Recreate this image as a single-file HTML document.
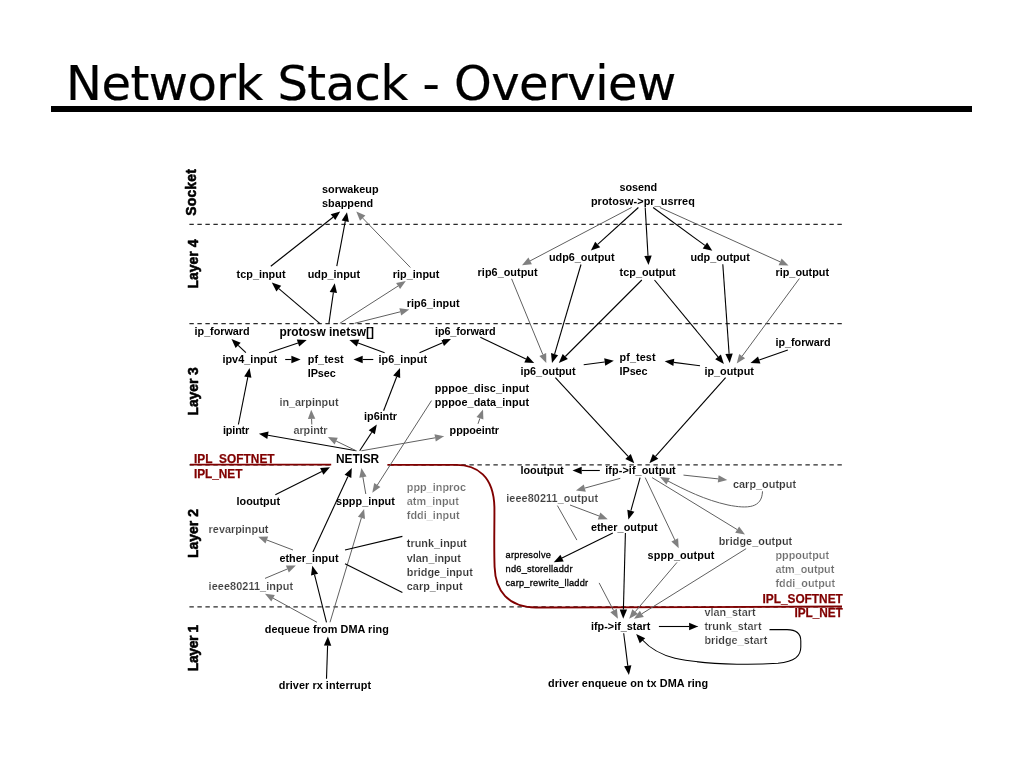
<!DOCTYPE html>
<html lang="en"><head><meta charset="utf-8"><title>Network Stack - Overview</title>
<style>
html,body{margin:0;padding:0;background:#fff;}
body{width:1024px;height:768px;overflow:hidden;position:relative;font-family:"Liberation Sans",sans-serif;}
h1{position:absolute;left:66px;top:55px;margin:0;font:normal 48px/56px "DejaVu Sans","Liberation Sans",sans-serif;color:#000;white-space:nowrap;letter-spacing:-0.53px;will-change:transform;-webkit-text-stroke:0.22px #000;}
.rule{position:absolute;left:51px;top:106px;width:921px;height:6px;background:#000;}
svg{position:absolute;left:0;top:0;}
text{font-family:"Liberation Sans",sans-serif;}
.b{font-weight:bold;font-size:10.85px;fill:#000;}
.B{font-weight:bold;font-size:11.9px;fill:#000;}
.g{font-weight:bold;font-size:10.85px;fill:#404040;stroke:#fff;stroke-width:.14px;}
.dg{font-weight:bold;font-size:10.85px;fill:#333;stroke:#fff;stroke-width:.15px;}
.dg2{font-weight:bold;font-size:10.85px;fill:#383838;stroke:#fff;stroke-width:.2px;}
.lg{font-weight:bold;font-size:10.85px;fill:#6c6c6c;stroke:#fff;stroke-width:.2px;}
.s{font-weight:normal;font-size:9.2px;fill:#000;stroke:#000;stroke-width:.32px;}
.r{font-weight:bold;font-size:11.85px;fill:#800000;stroke:#800000;stroke-width:.25px;}
.v{font-weight:bold;font-size:13.9px;fill:#000;stroke:#000;stroke-width:.55px;stroke-linejoin:round;}
.dash{stroke:#2a2a2a;stroke-width:1.25;stroke-dasharray:4.4 3.6;fill:none;}
.red{stroke:#800000;stroke-width:1.9;fill:none;}
</style></head><body>
<h1>Network Stack - Overview</h1>
<div class="rule"></div>
<svg width="1024" height="768" viewBox="0 0 1024 768">
<defs><filter id="soft" x="-2%" y="-2%" width="104%" height="104%"><feGaussianBlur stdDeviation="0.38"/></filter></defs>
<g id="diagram" filter="url(#soft)">
<line class="dash" x1="189.4" y1="224.3" x2="842" y2="224.3"/>
<line class="dash" x1="189.4" y1="323.5" x2="842" y2="323.5"/>
<line class="dash" x1="189.4" y1="464.8" x2="842" y2="464.8"/>
<line class="dash" x1="189.4" y1="606.8" x2="842" y2="606.8"/>
<rect x="330" y="452" width="58" height="15" fill="#fff"/>
<path class="red" d="M190 464.6 H331.2"/>
<path class="red" d="M387.4 464.9 H456 C477 464.9 493.6 476 494.4 507 C494.6 525 493.8 545 494.6 567 C495.4 591 508 607 536 607.5 L700 607.1 L842 606.5"/>
<line x1="270.8" y1="266.2" x2="333.0" y2="217.2" stroke="#000" stroke-width="1.1"/>
<polygon points="340.2,211.5 335.3,220.1 330.7,214.3" fill="#000"/>
<line x1="336.8" y1="266.2" x2="345.3" y2="221.2" stroke="#000" stroke-width="1.1"/>
<polygon points="347.0,212.2 348.9,221.9 341.7,220.6" fill="#000"/>
<line x1="410.4" y1="267.5" x2="362.7" y2="218.1" stroke="#606060" stroke-width="1.0"/>
<polygon points="356.3,211.5 365.4,215.5 360.0,220.7" fill="#808080"/>
<line x1="319.7" y1="323.3" x2="278.8" y2="288.6" stroke="#000" stroke-width="1.1"/>
<polygon points="271.8,282.6 281.2,285.7 276.4,291.4" fill="#000"/>
<line x1="328.9" y1="323.3" x2="333.4" y2="292.4" stroke="#000" stroke-width="1.1"/>
<polygon points="334.7,283.3 337.0,292.9 329.7,291.9" fill="#000"/>
<line x1="339.9" y1="323.3" x2="398.1" y2="286.0" stroke="#606060" stroke-width="1.0"/>
<polygon points="405.8,281.0 400.1,289.1 396.1,282.9" fill="#808080"/>
<line x1="354.6" y1="323.3" x2="400.3" y2="311.8" stroke="#606060" stroke-width="1.0"/>
<polygon points="409.2,309.6 401.2,315.4 399.4,308.3" fill="#808080"/>
<line x1="631.6" y1="207.5" x2="530.1" y2="260.9" stroke="#606060" stroke-width="1.0"/>
<polygon points="522.0,265.2 528.4,257.6 531.9,264.2" fill="#808080"/>
<line x1="638.4" y1="207.5" x2="597.7" y2="244.4" stroke="#000" stroke-width="1.1"/>
<polygon points="590.9,250.6 595.2,241.7 600.2,247.2" fill="#000"/>
<line x1="645.2" y1="207.5" x2="648.0" y2="255.8" stroke="#000" stroke-width="1.1"/>
<polygon points="648.5,265.0 644.3,256.0 651.7,255.6" fill="#000"/>
<line x1="653.1" y1="207.5" x2="704.9" y2="245.4" stroke="#000" stroke-width="1.1"/>
<polygon points="712.3,250.8 702.7,248.4 707.1,242.4" fill="#000"/>
<line x1="659.9" y1="207.5" x2="780.1" y2="261.8" stroke="#606060" stroke-width="1.0"/>
<polygon points="788.5,265.6 778.6,265.2 781.6,258.4" fill="#808080"/>
<line x1="511.6" y1="278.8" x2="542.8" y2="354.5" stroke="#606060" stroke-width="1.0"/>
<polygon points="546.3,363.0 539.4,355.9 546.2,353.1" fill="#808080"/>
<line x1="581.0" y1="264.5" x2="554.6" y2="354.2" stroke="#000" stroke-width="1.1"/>
<polygon points="552.0,363.0 551.0,353.1 558.1,355.2" fill="#000"/>
<line x1="641.8" y1="280.0" x2="565.3" y2="356.5" stroke="#000" stroke-width="1.1"/>
<polygon points="558.8,363.0 562.7,353.9 567.9,359.1" fill="#000"/>
<line x1="654.5" y1="280.0" x2="718.0" y2="356.9" stroke="#000" stroke-width="1.1"/>
<polygon points="723.9,364.0 715.2,359.3 720.9,354.6" fill="#000"/>
<line x1="722.8" y1="264.3" x2="729.1" y2="353.8" stroke="#000" stroke-width="1.1"/>
<polygon points="729.7,363.0 725.4,354.1 732.7,353.6" fill="#000"/>
<line x1="799.4" y1="278.5" x2="742.2" y2="356.1" stroke="#606060" stroke-width="1.0"/>
<polygon points="736.7,363.5 739.2,353.9 745.1,358.3" fill="#808080"/>
<line x1="245.9" y1="352.7" x2="238.2" y2="345.3" stroke="#000" stroke-width="1.1"/>
<polygon points="231.5,339.0 240.7,342.7 235.6,348.0" fill="#000"/>
<line x1="269.1" y1="352.7" x2="298.0" y2="342.9" stroke="#000" stroke-width="1.1"/>
<polygon points="306.7,340.0 299.2,346.4 296.8,339.4" fill="#000"/>
<line x1="285.2" y1="359.5" x2="291.4" y2="359.5" stroke="#000" stroke-width="1.1"/>
<polygon points="300.6,359.5 291.4,363.2 291.4,355.8" fill="#000"/>
<line x1="373.3" y1="359.5" x2="362.7" y2="359.5" stroke="#000" stroke-width="1.1"/>
<polygon points="353.5,359.5 362.7,355.8 362.7,363.2" fill="#000"/>
<line x1="384.6" y1="352.7" x2="358.1" y2="343.1" stroke="#000" stroke-width="1.1"/>
<polygon points="349.4,340.0 359.3,339.6 356.8,346.6" fill="#000"/>
<line x1="419.5" y1="352.7" x2="442.6" y2="342.7" stroke="#000" stroke-width="1.1"/>
<polygon points="451.0,339.0 444.0,346.1 441.1,339.3" fill="#000"/>
<line x1="480.3" y1="337.3" x2="525.9" y2="359.0" stroke="#000" stroke-width="1.1"/>
<polygon points="534.2,363.0 524.3,362.4 527.5,355.7" fill="#000"/>
<line x1="238.4" y1="424.5" x2="247.8" y2="377.1" stroke="#000" stroke-width="1.1"/>
<polygon points="249.6,368.1 251.4,377.8 244.2,376.4" fill="#000"/>
<line x1="311.8" y1="424.5" x2="311.6" y2="419.0" stroke="#606060" stroke-width="1.0"/>
<polygon points="311.2,409.8 315.3,418.8 307.9,419.1" fill="#808080"/>
<line x1="383.6" y1="410.8" x2="396.7" y2="376.7" stroke="#000" stroke-width="1.1"/>
<polygon points="400.0,368.1 400.2,378.0 393.2,375.4" fill="#000"/>
<line x1="356.3" y1="450.8" x2="268.0" y2="435.3" stroke="#000" stroke-width="1.1"/>
<polygon points="258.9,433.7 268.6,431.6 267.3,438.9" fill="#000"/>
<line x1="356.3" y1="450.8" x2="336.2" y2="441.1" stroke="#606060" stroke-width="1.0"/>
<polygon points="327.9,437.1 337.8,437.8 334.6,444.4" fill="#808080"/>
<line x1="359.7" y1="450.8" x2="371.8" y2="432.2" stroke="#000" stroke-width="1.1"/>
<polygon points="376.8,424.5 374.9,434.2 368.7,430.2" fill="#000"/>
<line x1="361.4" y1="450.8" x2="435.1" y2="437.8" stroke="#606060" stroke-width="1.0"/>
<polygon points="444.2,436.2 435.8,441.4 434.5,434.2" fill="#808080"/>
<line x1="478.0" y1="423.8" x2="479.9" y2="418.3" stroke="#606060" stroke-width="1.0"/>
<polygon points="483.0,409.6 483.4,419.5 476.5,417.0" fill="#808080"/>
<line x1="431.5" y1="400.6" x2="377.3" y2="485.1" stroke="#606060" stroke-width="1.0"/>
<polygon points="372.3,492.8 374.2,483.1 380.4,487.1" fill="#808080"/>
<line x1="275.3" y1="494.7" x2="321.8" y2="471.4" stroke="#000" stroke-width="1.1"/>
<polygon points="330.0,467.3 323.4,474.7 320.1,468.1" fill="#000"/>
<line x1="312.9" y1="552.1" x2="347.9" y2="476.4" stroke="#000" stroke-width="1.1"/>
<polygon points="351.8,468.0 351.3,477.9 344.6,474.8" fill="#000"/>
<line x1="365.8" y1="494.0" x2="362.9" y2="477.1" stroke="#606060" stroke-width="1.0"/>
<polygon points="361.4,468.0 366.6,476.5 359.3,477.7" fill="#808080"/>
<line x1="330.0" y1="622.3" x2="361.4" y2="517.8" stroke="#606060" stroke-width="1.0"/>
<polygon points="364.1,509.0 365.0,518.9 357.9,516.7" fill="#808080"/>
<line x1="293.0" y1="550.0" x2="266.8" y2="540.0" stroke="#606060" stroke-width="1.0"/>
<polygon points="258.2,536.7 268.1,536.5 265.5,543.4" fill="#808080"/>
<line x1="265.0" y1="578.4" x2="287.3" y2="569.0" stroke="#606060" stroke-width="1.0"/>
<polygon points="295.8,565.4 288.8,572.4 285.9,565.6" fill="#808080"/>
<line x1="317.0" y1="622.3" x2="273.1" y2="598.2" stroke="#606060" stroke-width="1.0"/>
<polygon points="265.0,593.8 274.8,595.0 271.3,601.5" fill="#808080"/>
<line x1="326.5" y1="622.3" x2="314.5" y2="574.7" stroke="#000" stroke-width="1.1"/>
<polygon points="312.3,565.8 318.1,573.8 311.0,575.6" fill="#000"/>
<line x1="345.0" y1="550.0" x2="402.4" y2="536.4" stroke="#000" stroke-width="1.1"/>
<line x1="345.0" y1="563.7" x2="402.4" y2="592.6" stroke="#000" stroke-width="1.1"/>
<line x1="326.5" y1="678.7" x2="327.6" y2="645.6" stroke="#000" stroke-width="1.1"/>
<polygon points="327.9,636.4 331.3,645.7 323.9,645.5" fill="#000"/>
<line x1="583.7" y1="364.7" x2="604.7" y2="362.0" stroke="#000" stroke-width="1.1"/>
<polygon points="613.8,360.8 605.2,365.7 604.2,358.3" fill="#000"/>
<line x1="700.0" y1="365.7" x2="673.8" y2="362.4" stroke="#000" stroke-width="1.1"/>
<polygon points="664.7,361.3 674.3,358.8 673.4,366.1" fill="#000"/>
<line x1="787.8" y1="350.0" x2="759.2" y2="360.0" stroke="#000" stroke-width="1.1"/>
<polygon points="750.5,363.0 758.0,356.5 760.4,363.5" fill="#000"/>
<line x1="555.4" y1="377.7" x2="628.1" y2="456.4" stroke="#000" stroke-width="1.1"/>
<polygon points="634.3,463.2 625.3,458.9 630.8,453.9" fill="#000"/>
<line x1="725.6" y1="377.7" x2="655.5" y2="456.3" stroke="#000" stroke-width="1.1"/>
<polygon points="649.4,463.2 652.8,453.9 658.3,458.8" fill="#000"/>
<line x1="599.8" y1="470.5" x2="581.7" y2="470.5" stroke="#000" stroke-width="1.1"/>
<polygon points="572.5,470.5 581.7,466.8 581.7,474.2" fill="#000"/>
<line x1="683.5" y1="475.1" x2="718.2" y2="478.9" stroke="#606060" stroke-width="1.0"/>
<polygon points="727.3,479.9 717.8,482.6 718.6,475.2" fill="#808080"/>
<line x1="620.3" y1="478.3" x2="584.8" y2="488.1" stroke="#606060" stroke-width="1.0"/>
<polygon points="575.9,490.6 583.8,484.6 585.8,491.7" fill="#808080"/>
<line x1="570.0" y1="505.0" x2="599.1" y2="516.0" stroke="#606060" stroke-width="1.0"/>
<polygon points="607.7,519.3 597.8,519.5 600.4,512.6" fill="#808080"/>
<line x1="557.4" y1="505.6" x2="576.9" y2="540.1" stroke="#606060" stroke-width="1.0"/>
<line x1="640.1" y1="477.6" x2="630.9" y2="510.7" stroke="#000" stroke-width="1.1"/>
<polygon points="628.4,519.6 627.3,509.7 634.4,511.7" fill="#000"/>
<line x1="645.2" y1="477.6" x2="674.8" y2="539.9" stroke="#606060" stroke-width="1.0"/>
<polygon points="678.7,548.2 671.4,541.5 678.1,538.3" fill="#808080"/>
<line x1="652.1" y1="477.6" x2="737.2" y2="529.6" stroke="#606060" stroke-width="1.0"/>
<polygon points="745.0,534.4 735.2,532.8 739.1,526.4" fill="#808080"/>
<line x1="612.8" y1="533.0" x2="562.0" y2="558.1" stroke="#000" stroke-width="1.1"/>
<polygon points="553.8,562.2 560.4,554.8 563.7,561.4" fill="#000"/>
<line x1="625.4" y1="533.0" x2="623.4" y2="609.5" stroke="#000" stroke-width="1.1"/>
<polygon points="623.2,618.7 619.7,609.4 627.1,609.6" fill="#000"/>
<line x1="677.0" y1="562.4" x2="635.2" y2="611.7" stroke="#606060" stroke-width="1.0"/>
<polygon points="629.2,618.7 632.3,609.3 638.0,614.1" fill="#808080"/>
<line x1="746.1" y1="548.7" x2="641.8" y2="613.8" stroke="#606060" stroke-width="1.0"/>
<polygon points="634.0,618.7 639.8,610.7 643.8,617.0" fill="#808080"/>
<line x1="599.1" y1="582.9" x2="613.6" y2="610.6" stroke="#606060" stroke-width="1.0"/>
<polygon points="617.9,618.7 610.3,612.3 616.9,608.8" fill="#808080"/>
<line x1="658.9" y1="626.5" x2="689.1" y2="626.5" stroke="#000" stroke-width="1.1"/>
<polygon points="698.3,626.5 689.1,630.2 689.1,622.8" fill="#000"/>
<line x1="623.7" y1="633.2" x2="627.8" y2="665.8" stroke="#000" stroke-width="1.1"/>
<polygon points="628.9,674.9 624.1,666.2 631.4,665.3" fill="#000"/>
<path d="M762.5 491.3 C762 508 748 509 728 505 C705 500 685 490 667 480.5" fill="none" stroke="#606060" stroke-width="1"/>
<polygon points="660.0,476.9 669.9,477.9 666.4,484.5" fill="#808080"/>
<path d="M769.5 629.6 H787 C796 629.6 800.8 633 800.8 641 V647 C800.8 656 795 661.5 778 663.3 C760 664.5 745 664.4 737 664.2 C712 663.5 690 661.6 675 658.2 C662 655 651 649.5 642.5 640" fill="none" stroke="#000" stroke-width="1.08"/>
<polygon points="636.2,634.0 645.2,638.3 639.7,643.3" fill="#000"/>
<text class="b" x="322.1" y="193.4" textLength="56.4" lengthAdjust="spacing">sorwakeup</text>
<text class="b" x="322.1" y="207.1" textLength="51.0" lengthAdjust="spacing">sbappend</text>
<text class="b" x="236.6" y="278.2" textLength="48.9" lengthAdjust="spacing">tcp_input</text>
<text class="b" x="307.7" y="278.2" textLength="52.3" lengthAdjust="spacing">udp_input</text>
<text class="b" x="392.8" y="278.2" textLength="46.5" lengthAdjust="spacing">rip_input</text>
<text class="b" x="406.8" y="307.2" textLength="52.7" lengthAdjust="spacing">rip6_input</text>
<text class="b" x="194.6" y="334.9" textLength="55.0" lengthAdjust="spacing">ip_forward</text>
<text class="B" x="279.4" y="336.3" textLength="94.6" lengthAdjust="spacing">protosw inetsw[]</text>
<text class="b" x="435.0" y="334.9" textLength="60.5" lengthAdjust="spacing">ip6_forward</text>
<text class="b" x="222.4" y="363.0" textLength="54.6" lengthAdjust="spacing">ipv4_input</text>
<text class="b" x="307.7" y="363.0" textLength="35.9" lengthAdjust="spacing">pf_test</text>
<text class="b" x="307.7" y="376.6" textLength="28.0" lengthAdjust="spacing">IPsec</text>
<text class="b" x="378.5" y="363.0" textLength="48.5" lengthAdjust="spacing">ip6_input</text>
<text class="g" x="279.4" y="405.7" textLength="59.1" lengthAdjust="spacing">in_arpinput</text>
<text class="b" x="364.1" y="420.0" textLength="32.9" lengthAdjust="spacing">ip6intr</text>
<text class="b" x="434.8" y="392.0" textLength="94.2" lengthAdjust="spacing">pppoe_disc_input</text>
<text class="b" x="434.8" y="405.7" textLength="94.2" lengthAdjust="spacing">pppoe_data_input</text>
<text class="b" x="223.0" y="433.7" textLength="26.3" lengthAdjust="spacing">ipintr</text>
<text class="g" x="293.4" y="433.7" textLength="34.2" lengthAdjust="spacing">arpintr</text>
<text class="b" x="449.6" y="433.7" textLength="49.5" lengthAdjust="spacing">pppoeintr</text>
<text class="B" x="336.1" y="462.8" textLength="43.1" lengthAdjust="spacing">NETISR</text>
<text class="r" x="193.9" y="462.8" textLength="80.7" lengthAdjust="spacing">IPL_SOFTNET</text>
<text class="r" x="193.9" y="478.1" textLength="48.6" lengthAdjust="spacing">IPL_NET</text>
<text class="b" x="236.6" y="505.0" textLength="43.4" lengthAdjust="spacing">looutput</text>
<text class="b" x="336.1" y="505.0" textLength="58.8" lengthAdjust="spacing">sppp_input</text>
<text class="lg" x="406.8" y="490.6" textLength="59.2" lengthAdjust="spacing">ppp_inproc</text>
<text class="lg" x="406.8" y="505.0" textLength="52.0" lengthAdjust="spacing">atm_input</text>
<text class="lg" x="406.8" y="518.6" textLength="52.7" lengthAdjust="spacing">fddi_input</text>
<text class="g" x="208.6" y="533.2" textLength="59.8" lengthAdjust="spacing">revarpinput</text>
<text class="b" x="279.4" y="562.0" textLength="59.1" lengthAdjust="spacing">ether_input</text>
<text class="dg" x="406.8" y="546.6" textLength="59.9" lengthAdjust="spacing">trunk_input</text>
<text class="dg" x="406.8" y="561.7" textLength="54.0" lengthAdjust="spacing">vlan_input</text>
<text class="dg" x="406.8" y="575.7" textLength="66.0" lengthAdjust="spacing">bridge_input</text>
<text class="dg" x="406.8" y="589.7" textLength="55.7" lengthAdjust="spacing">carp_input</text>
<text class="g" x="208.6" y="589.7" textLength="84.4" lengthAdjust="spacing">ieee80211_input</text>
<text class="b" x="264.8" y="633.0" textLength="124.0" lengthAdjust="spacing">dequeue from DMA ring</text>
<text class="b" x="278.8" y="689.0" textLength="92.2" lengthAdjust="spacing">driver rx interrupt</text>
<text class="b" x="619.6" y="191.4" textLength="37.6" lengthAdjust="spacing">sosend</text>
<text class="b" x="590.9" y="204.7" textLength="103.9" lengthAdjust="spacing">protosw-&gt;pr_usrreq</text>
<text class="b" x="477.6" y="276.0" textLength="60.0" lengthAdjust="spacing">rip6_output</text>
<text class="b" x="548.9" y="260.6" textLength="65.6" lengthAdjust="spacing">udp6_output</text>
<text class="b" x="619.6" y="276.0" textLength="56.1" lengthAdjust="spacing">tcp_output</text>
<text class="b" x="690.4" y="260.5" textLength="59.4" lengthAdjust="spacing">udp_output</text>
<text class="b" x="775.5" y="276.0" textLength="53.6" lengthAdjust="spacing">rip_output</text>
<text class="b" x="775.5" y="345.5" textLength="55.0" lengthAdjust="spacing">ip_forward</text>
<text class="b" x="520.5" y="374.5" textLength="55.0" lengthAdjust="spacing">ip6_output</text>
<text class="b" x="619.6" y="360.5" textLength="35.9" lengthAdjust="spacing">pf_test</text>
<text class="b" x="619.6" y="374.5" textLength="28.0" lengthAdjust="spacing">IPsec</text>
<text class="b" x="704.4" y="374.5" textLength="49.5" lengthAdjust="spacing">ip_output</text>
<text class="b" x="520.5" y="474.2" textLength="43.1" lengthAdjust="spacing">looutput</text>
<text class="b" x="605.3" y="474.2" textLength="70.4" lengthAdjust="spacing">ifp-&gt;if_output</text>
<text class="dg" x="733.0" y="488.2" textLength="63.0" lengthAdjust="spacing">carp_output</text>
<text class="g" x="506.2" y="501.9" textLength="91.8" lengthAdjust="spacing">ieee80211_output</text>
<text class="b" x="590.9" y="530.9" textLength="66.7" lengthAdjust="spacing">ether_output</text>
<text class="dg" x="718.7" y="544.6" textLength="73.5" lengthAdjust="spacing">bridge_output</text>
<text class="b" x="647.6" y="559.3" textLength="66.7" lengthAdjust="spacing">sppp_output</text>
<text class="s" x="505.5" y="557.9" textLength="45.4" lengthAdjust="spacing">arpresolve</text>
<text class="s" x="505.5" y="572.3" textLength="67.0" lengthAdjust="spacing">nd6_storelladdr</text>
<text class="s" x="505.5" y="586.1" textLength="82.6" lengthAdjust="spacing">carp_rewrite_lladdr</text>
<text class="lg" x="775.5" y="558.6" textLength="53.6" lengthAdjust="spacing">pppoutput</text>
<text class="lg" x="775.5" y="572.6" textLength="58.8" lengthAdjust="spacing">atm_output</text>
<text class="lg" x="775.5" y="587.3" textLength="59.5" lengthAdjust="spacing">fddi_output</text>
<text class="r" x="762.5" y="603.1" textLength="80.3" lengthAdjust="spacing">IPL_SOFTNET</text>
<text class="r" x="794.6" y="616.7" textLength="48.2" lengthAdjust="spacing">IPL_NET</text>
<text class="dg2" x="704.4" y="615.7" textLength="51.2" lengthAdjust="spacing">vlan_start</text>
<text class="dg2" x="704.4" y="630.0" textLength="57.1" lengthAdjust="spacing">trunk_start</text>
<text class="dg2" x="704.4" y="643.5" textLength="62.9" lengthAdjust="spacing">bridge_start</text>
<text class="b" x="590.9" y="629.7" textLength="59.5" lengthAdjust="spacing">ifp-&gt;if_start</text>
<text class="b" x="548.0" y="687.4" textLength="160.2" lengthAdjust="spacing">driver enqueue on tx DMA ring</text>
<text class="v" transform="translate(195.8 192.5) rotate(-90) scale(1 1.08)" x="-23.2" textLength="46.5" lengthAdjust="spacing">Socket</text>
<text class="v" transform="translate(197.6 264.0) rotate(-90) scale(1 1.04)" x="-24.4" textLength="48.8" lengthAdjust="spacing">Layer 4</text>
<text class="v" transform="translate(197.6 391.4) rotate(-90) scale(1 1.04)" x="-24.1" textLength="48.3" lengthAdjust="spacing">Layer 3</text>
<text class="v" transform="translate(197.6 533.5) rotate(-90) scale(1 1.04)" x="-24.4" textLength="48.8" lengthAdjust="spacing">Layer 2</text>
<text class="v" transform="translate(197.6 648.0) rotate(-90) scale(1 1.04)" x="-23.2" textLength="46.5" lengthAdjust="spacing">Layer 1</text>
</g></svg>
</body></html>
